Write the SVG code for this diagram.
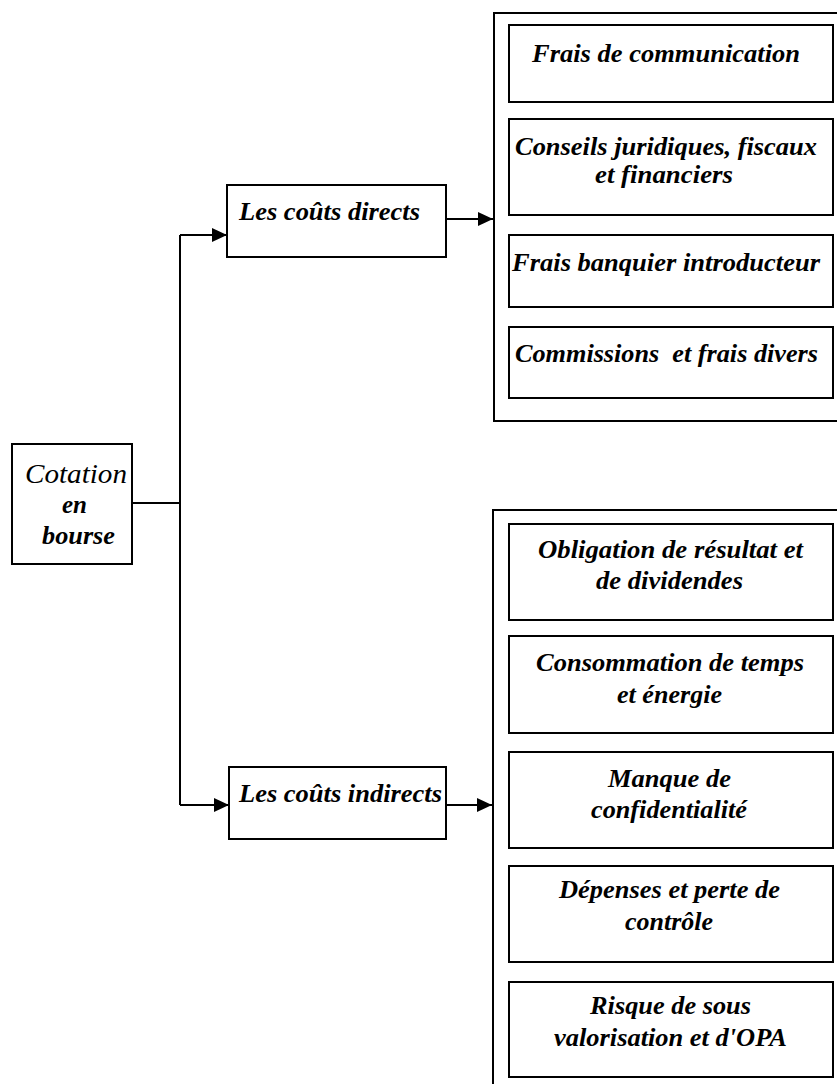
<svg xmlns="http://www.w3.org/2000/svg" width="837" height="1084" viewBox="0 0 837 1084">
<style>
  .box { fill: #fff; stroke: #000; stroke-width: 2; }
  .frame { fill: none; stroke: #000; stroke-width: 2; }
  .conn { fill: none; stroke: #000; stroke-width: 2; }
</style>
<defs>
  <marker id="arrow" markerUnits="userSpaceOnUse" markerWidth="15" markerHeight="14" refX="15" refY="7" orient="auto">
    <path d="M0,0 L15,7 L0,14 Z" fill="#000"/>
  </marker>
</defs>
<rect width="837" height="1084" fill="#fff"/>

<g id="connectors">
  <path class="conn" d="M132,503 H180"/>
  <path class="conn" d="M180,235 V805"/>
  <path class="conn" d="M180,235 H227" marker-end="url(#arrow)"/>
  <path class="conn" d="M180,805 H229" marker-end="url(#arrow)"/>
  <path class="conn" d="M446,219 H493" marker-end="url(#arrow)"/>
  <path class="conn" d="M446,805 H492" marker-end="url(#arrow)"/>
</g>

<g font-family="Liberation Serif" font-size="26" font-weight="bold" font-style="italic" fill="#000">

<g id="cotation">
  <rect class="box" x="12" y="444" width="120" height="120"/>
  <text x="25" y="483" font-size="27" font-weight="normal" textLength="102" lengthAdjust="spacingAndGlyphs">Cotation</text>
  <text x="62" y="513" font-size="25" textLength="25" lengthAdjust="spacingAndGlyphs">en</text>
  <text x="42" y="544" font-size="25" textLength="73" lengthAdjust="spacingAndGlyphs">bourse</text>
</g>

<g id="couts-directs">
  <rect class="box" x="227" y="185" width="219" height="72"/>
  <text x="239" y="220" textLength="181" lengthAdjust="spacingAndGlyphs">Les coûts directs</text>
</g>

<g id="couts-indirects">
  <rect class="box" x="229" y="767" width="217" height="72"/>
  <text x="239" y="802" textLength="203" lengthAdjust="spacingAndGlyphs">Les coûts indirects</text>
</g>

<g id="groupe-directs">
  <path class="frame" d="M840,13 H494 V421 H840"/>
</g>
<g id="frais-communication">
  <rect class="box" x="509" y="25" width="324" height="77"/>
  <text x="532" y="62" textLength="268" lengthAdjust="spacingAndGlyphs">Frais de communication</text>
</g>
<g id="conseils">
  <rect class="box" x="509" y="119" width="324" height="96"/>
  <text x="515" y="155" textLength="302" lengthAdjust="spacingAndGlyphs">Conseils juridiques, fiscaux</text>
  <text x="595" y="183" textLength="138" lengthAdjust="spacingAndGlyphs">et financiers</text>
</g>
<g id="frais-banquier">
  <rect class="box" x="509" y="235" width="324" height="72"/>
  <text x="512" y="271" textLength="308" lengthAdjust="spacingAndGlyphs">Frais banquier introducteur</text>
</g>
<g id="commissions">
  <rect class="box" x="509" y="327" width="324" height="71"/>
  <text x="515" y="362" xml:space="preserve" textLength="303" lengthAdjust="spacingAndGlyphs">Commissions  et frais divers</text>
</g>

<g id="groupe-indirects">
  <path class="frame" d="M840,510 H493 V1090"/>
</g>
<g id="obligation">
  <rect class="box" x="509" y="524" width="324" height="96"/>
  <text x="538" y="558" textLength="265" lengthAdjust="spacingAndGlyphs">Obligation de résultat et</text>
  <text x="596" y="589" textLength="147" lengthAdjust="spacingAndGlyphs">de dividendes</text>
</g>
<g id="consommation">
  <rect class="box" x="509" y="636" width="324" height="97"/>
  <text x="536" y="671" textLength="268" lengthAdjust="spacingAndGlyphs">Consommation de temps</text>
  <text x="617" y="703" textLength="105" lengthAdjust="spacingAndGlyphs">et énergie</text>
</g>
<g id="confidentialite">
  <rect class="box" x="509" y="752" width="324" height="96"/>
  <text x="608" y="787" textLength="123" lengthAdjust="spacingAndGlyphs">Manque de</text>
  <text x="591" y="818" textLength="156" lengthAdjust="spacingAndGlyphs">confidentialité</text>
</g>
<g id="depenses">
  <rect class="box" x="509" y="866" width="324" height="96"/>
  <text x="559" y="898" textLength="221" lengthAdjust="spacingAndGlyphs">Dépenses et perte de</text>
  <text x="625" y="930" textLength="88" lengthAdjust="spacingAndGlyphs">contrôle</text>
</g>
<g id="risque">
  <rect class="box" x="509" y="982" width="324" height="95"/>
  <text x="590" y="1014" textLength="161" lengthAdjust="spacingAndGlyphs">Risque de sous</text>
  <text x="554" y="1046" textLength="233" lengthAdjust="spacingAndGlyphs">valorisation et d'OPA</text>
</g>
</g>
</svg>
